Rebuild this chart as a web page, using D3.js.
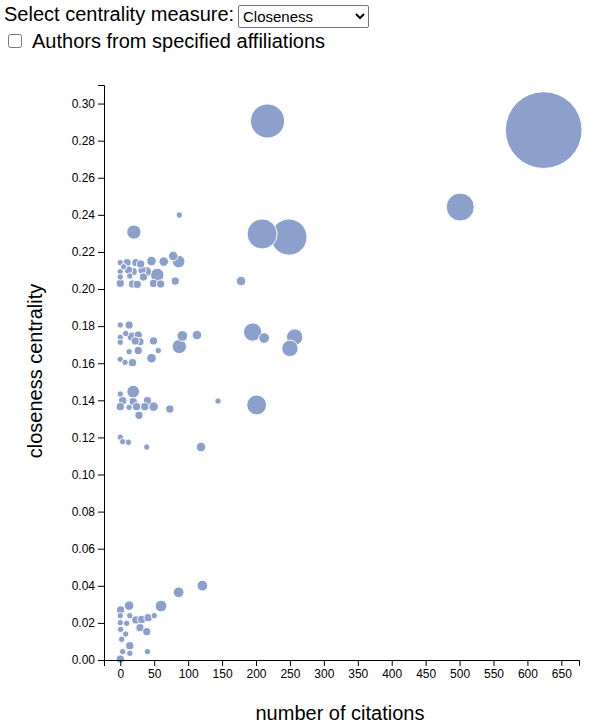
<!DOCTYPE html>
<html>
<head>
<meta charset="utf-8">
<script src="https://cdn.jsdelivr.net/npm/d3@7"></script>
<style>
  html, body { margin: 0; padding: 0; background: #fff; font-family: "Liberation Sans", Arial, sans-serif; }
  .lbl { position: absolute; font-size: 20px; white-space: nowrap; line-height: 23px; }
  #sel { position: absolute; left: 238px; top: 5px; font-family: "Liberation Sans", Arial, sans-serif; font-size: 15px; width: 131px; height: 23px; margin: 0; border: 1px solid #767676; border-radius: 2px; background: #fff; color: #000; }
  #cb { position: absolute; left: 8px; top: 34px; margin: 0; width: 14px; height: 14px; }
  svg { position: absolute; left: 0; top: 60px; }
</style>
</head>
<body>
<div class="lbl" style="left:4px; top:3px;">Select centrality measure:</div>
<select id="sel"><option>Closeness</option><option>Betweenness</option><option>Degree</option></select>
<input id="cb" type="checkbox">
<div class="lbl" style="left:32px; top:30px;">Authors from specified affiliations</div>
<svg id="chart" width="605" height="667"></svg>
<script>
// citations (x), closeness centrality (y), degree (bubble size)
const citations = [
  624, 217, 501, 248.6, 209, 20, 87, 178, 195, 212, 257, 250, 201, 87, 91.5, 113, 119, 144, 121, 86, 60,
  0, 10, 23, 46, 64, 86, 78, 54.5, 81, 0, 18, 25, 39, 32, 19, 12, 0, 0, 14, 34, 49, 59.5, 5, 30,
  0, 13, 0, 17, 26.5, 29, 0, 49, 56, 26.5, 13, 46, 0, 7, 18, 8, 22,
  19, 0, 3.5, 40, 19, 0, 13, 24, 36, 49, 27.5, 73, 0, 3.5, 12, 39,
  13, 0.5, 14, 0, 23, 31.5, 41, 50, 0, 9.5, 29, 39, 0.5, 8, 2, 14, 3.5, 14, 40, 0
];
const closeness = [
  0.2857, 0.2906, 0.2442, 0.2280, 0.2297, 0.2307, 0.2399, 0.2043, 0.1768, 0.1736, 0.1741, 0.1680, 0.1375, 0.1690, 0.1747, 0.1752, 0.1148, 0.1396, 0.0401, 0.0365, 0.0291,
  0.2142, 0.2142, 0.2142, 0.2151, 0.2148, 0.2148, 0.2178, 0.2076, 0.2043, 0.2031, 0.2027, 0.2025, 0.2094, 0.2102, 0.2094, 0.2102, 0.2094, 0.2065, 0.2070, 0.2065, 0.2030, 0.2027, 0.2120, 0.2135,
  0.1806, 0.1806, 0.1740, 0.1743, 0.1752, 0.1716, 0.1713, 0.1720, 0.1668, 0.1668, 0.1662, 0.1627, 0.1621, 0.1605, 0.1603, 0.1760, 0.1720,
  0.1447, 0.1434, 0.1398, 0.1398, 0.1393, 0.1366, 0.1362, 0.1366, 0.1366, 0.1366, 0.1319, 0.1353, 0.1201, 0.1177, 0.1174, 0.1148,
  0.0293, 0.0270, 0.0239, 0.0239, 0.0216, 0.0219, 0.0228, 0.0239, 0.0201, 0.0198, 0.0174, 0.0153, 0.0165, 0.0140, 0.0112, 0.0077, 0.0045, 0.0036, 0.0045, 0.0005
];
const degree = [
  298, 55, 36, 62, 42, 8, 1, 3, 14, 4, 11, 11, 17, 8, 4, 3, 3, 1, 4, 4, 5,
  1, 2, 2, 3, 3, 6, 3, 7, 2, 2, 2, 2, 3, 2, 2, 2, 1, 1, 1, 2, 2, 2, 1, 2,
  1, 2, 1, 3, 2, 2, 1, 2, 1, 2, 1, 3, 1, 1, 2, 1, 2,
  6, 1, 2, 2, 2, 2, 1, 2, 2, 3, 2, 2, 1, 1, 1, 1,
  3, 2, 1, 1, 2, 2, 2, 1, 1, 1, 2, 2, 1, 1, 1, 2, 1, 1, 1, 2
];
const xTicks = [0, 50, 100, 150, 200, 250, 300, 350, 400, 450, 500, 550, 600, 650];
const yTicks = [0, 0.02, 0.04, 0.06, 0.08, 0.10, 0.12, 0.14, 0.16, 0.18, 0.20, 0.22, 0.24, 0.26, 0.28, 0.30];
const xLabel = "number of citations";
const yLabel = "closeness centrality";

const OFF = 60; // svg top offset on page
const svg = d3.select("#chart");
const x = d3.scaleLinear().domain([-24, 676]).range([104, 579]);
const y = d3.scaleLinear().domain([0, 0.31]).range([660 - OFF, 85 - OFF]);
const r = d3.scaleSqrt().domain([1, 300]).range([3.2, 38.5]);

const data = citations.map((c, i) => ({ c, v: closeness[i], d: degree[i] }))
  .sort((a, b) => b.d - a.d);

svg.append("g")
  .selectAll("circle")
  .data(data)
  .join("circle")
  .attr("cx", d => x(d.c))
  .attr("cy", d => y(d.v))
  .attr("r", d => r(d.d))
  .attr("fill", "#8da0cb")
  .attr("stroke", "#fff")
  .attr("stroke-width", 1);

const font = "'Liberation Sans', Arial, sans-serif";
const gx = svg.append("g")
  .attr("transform", `translate(0,${660 - OFF})`)
  .call(d3.axisBottom(x).tickValues(xTicks).tickFormat(d3.format("d")));
const gy = svg.append("g")
  .attr("transform", `translate(104,0)`)
  .call(d3.axisLeft(y).tickValues(yTicks).tickFormat(d3.format(".2f")));
[gx, gy].forEach(g => g.selectAll("text").attr("font-size", 12).attr("font-family", font).attr("fill", "#000"));
[gx, gy].forEach(g => g.selectAll("path, line").attr("stroke", "#000"));

svg.append("text")
  .attr("x", 340).attr("y", 720 - OFF)
  .attr("text-anchor", "middle")
  .attr("font-size", 20).attr("font-family", font)
  .text(xLabel);
svg.append("text")
  .attr("transform", `translate(42,${371 - OFF}) rotate(-90)`)
  .attr("text-anchor", "middle")
  .attr("font-size", 20).attr("font-family", font)
  .text(yLabel);
</script>
</body>
</html>
